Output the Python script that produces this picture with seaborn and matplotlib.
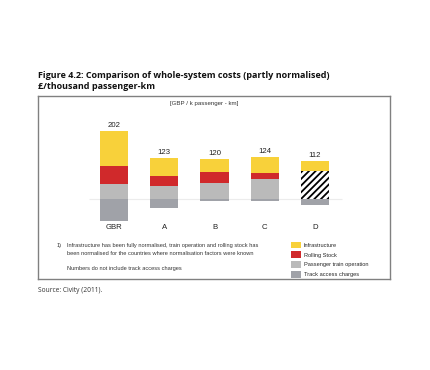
import pandas as pd
import matplotlib.pyplot as plt
import seaborn as sns
from matplotlib.patches import Patch

# Data (GBP per thousand passenger-km)
countries = ["GBR", "A", "B", "C", "D"]
infrastructure = [103, 54, 40, 45, 27]
rolling_stock = [54, 29, 31, 20, 0]
passenger_ops = [45, 40, 49, 59, 0]
combined_ops = [0, 0, 0, 0, 85]      # D: rolling stock + operation not split (hatched)
track_access = [63, 25, 3, 3, 16]     # drawn below the zero line
totals = [202, 123, 120, 124, 112]

legend_labels = ["Infrastructure", "Rolling Stock", "Passenger train operation", "Track access charges"]
colors = ["#F8D13A", "#D0292B", "#BABABA", "#A0A2A8"]

W, H = 431, 370


def fx(px):
    return px / W


def fy(py):
    return 1 - py / H


df = pd.DataFrame({
    "country": countries,
    "infra": infrastructure,
    "rolling": rolling_stock,
    "passenger": passenger_ops,
    "combined": combined_ops,
    "track": [-v for v in track_access],
})

sns.set_theme(style="white")
plt.rcParams["font.family"] = ["Liberation Sans", "DejaVu Sans"]
plt.rcParams["hatch.linewidth"] = 1.3

fig = plt.figure(figsize=(W / 100, H / 100), dpi=100)
ax = fig.add_axes([fx(38), fy(279), fx(390) - fx(38), (279 - 95.7) / H])

bar_w = 0.56
common = dict(x="country", order=countries, width=bar_w, linewidth=0, saturation=1, ax=ax)

# stack from the zero line upward
sns.barplot(data=df, y="passenger", color=colors[2], **common)
sns.barplot(data=df, y="combined", bottom=df["passenger"].tolist(), color="white",
            edgecolor="black", hatch="/////", **common)
base = df["passenger"] + df["combined"]
sns.barplot(data=df, y="rolling", bottom=base.tolist(), color=colors[1], **common)
base = base + df["rolling"]
sns.barplot(data=df, y="infra", bottom=base.tolist(), color=colors[0], **common)
# track access below zero
sns.barplot(data=df, y="track", color=colors[3], **common)

ax.hlines(0, -0.5, 4.55, color="#ececec", linewidth=0.8, zorder=0)

for i, t in enumerate(totals):
    ax.text(i, t + 6, str(t), ha="center", va="bottom", fontsize=5.6, color="#222222")

ax.set_xlim(-1.52, 5.5)
ax.set_ylim(-233.5, 304.8)
ax.set_xticks([])
ax.set_yticks([])
ax.set_xlabel("")
ax.set_ylabel("")
for s in ax.spines.values():
    s.set_visible(True)
    s.set_color("#808080")
    s.set_linewidth(1.0)

# category labels under the bars
for i, c in enumerate(countries):
    ax.text(i, -(228 - 199.5) * 2.936, c, ha="center", va="center", fontsize=5.6, color="#222222")

fig.text(fx(204), fy(104), "[GBP / k passenger - km]", ha="center", va="center",
         fontsize=4.4, color="#333333")

# footnotes
fs_note = 4.1
fig.text(fx(57), fy(245.7), "1)", ha="left", va="center", fontsize=fs_note, color="#333333")
fig.text(fx(66.7), fy(245.7),
         "Infrastructure has been fully normalised, train operation and rolling stock has",
         ha="left", va="center", fontsize=fs_note, color="#333333")
fig.text(fx(66.7), fy(253.5),
         "been normalised for the countries where normalisation factors were known",
         ha="left", va="center", fontsize=fs_note, color="#333333")
fig.text(fx(66.7), fy(268.3), "Numbers do not include track access charges",
         ha="left", va="center", fontsize=fs_note, color="#333333")

handles = [Patch(facecolor=c, edgecolor="none") for c in colors]
fig.legend(handles, legend_labels, loc="upper left", bbox_to_anchor=(fx(291), fy(241.5)),
           frameon=False, fontsize=4.1, handlelength=1.75, handleheight=1.35,
           handletextpad=0.45, labelspacing=0.62, borderaxespad=0, borderpad=0)

# titles and source
fig.text(fx(38), fy(75), "Figure 4.2: Comparison of whole-system costs (partly normalised)",
         ha="left", va="center", fontsize=6.5, fontweight="bold", family="Open Sans", color="#111111")
fig.text(fx(38), fy(86.5), "£/thousand passenger-km",
         ha="left", va="center", fontsize=6.5, fontweight="bold", family="Open Sans", color="#111111")
fig.text(fx(38), fy(291), "Source: Civity (2011).", ha="left", va="center",
         fontsize=4.8, family="Open Sans", color="#333333")

fig.savefig("out.png", dpi=100)
